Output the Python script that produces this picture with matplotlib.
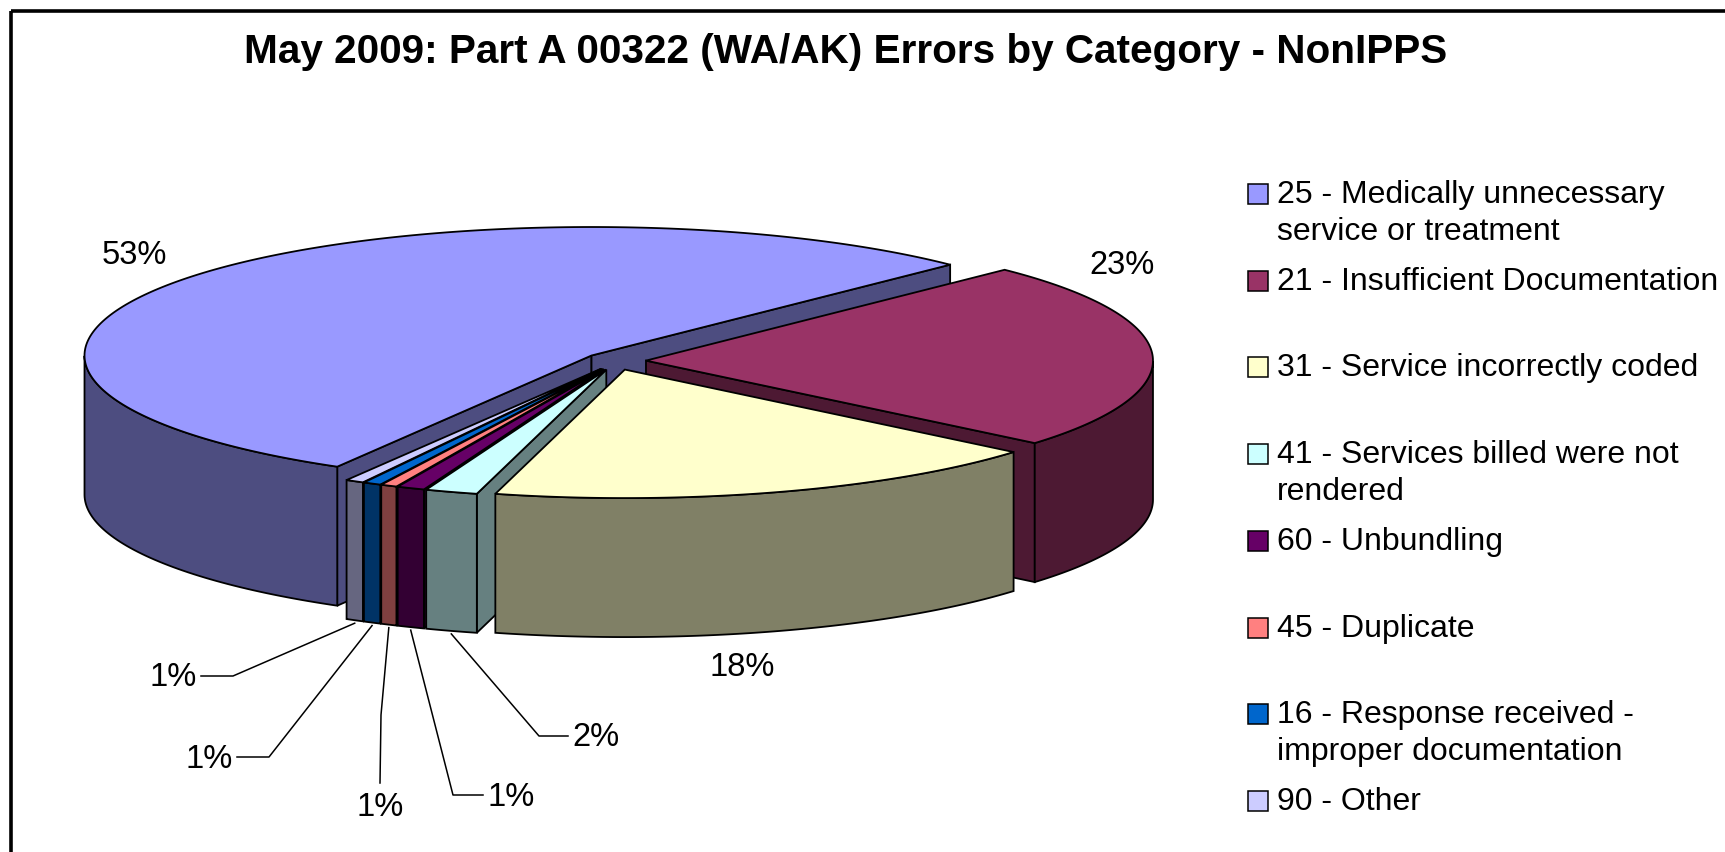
import matplotlib
matplotlib.use('Agg')
import matplotlib.pyplot as plt
from matplotlib.patches import Polygon, Rectangle
import numpy as np

plt.rcParams['font.family'] = ['Liberation Sans', 'DejaVu Sans']

TITLE = 'May 2009: Part A 00322 (WA/AK) Errors by Category - NonIPPS'
CATEGORIES = ['25 - Medically unnecessary\nservice or treatment',
              '21 - Insufficient Documentation',
              '31 - Service incorrectly coded',
              '41 - Services billed were not\nrendered',
              '60 - Unbundling',
              '45 - Duplicate',
              '16 - Response received -\nimproper documentation',
              '90 - Other']
PERCENTS = [53.49, 23.3, 17.8, 1.65, 0.88, 0.52, 0.57, 0.58]
COLORS = ['#9999FF', '#993366', '#FFFFCC', '#CCFFFF',
          '#660066', '#FF8080', '#0066CC', '#CCCCFF']
WALLS = ['#4D4D80', '#4D1933', '#808066', '#668080',
         '#330033', '#804040', '#003366', '#666680']

# pie layout, in pixels of the 1725x852 picture
CX, CY = 615.6, 361
RX, RY = 507, 128.5
DEPTH = 139
EXPLODE_X, EXPLODE_Y = 30.4, 9
START = 239.9
# back to front
DRAW_ORDER = [0, 1, 7, 6, 5, 4, 3, 2]

# (elbow, label centre) per slice; elbow None means no leader
LABELS = {0: (None, (134, 256)),
          1: (None, (1122, 266)),
          2: (None, (742, 667)),
          3: ((539, 736), (596, 738)),
          4: ((453, 795), (511, 797)),
          5: ((381, 715), (380, 807)),
          6: ((269, 757), (209, 759)),
          7: ((233, 676), (173, 678))}


def slice_angles(percents):
  shares = np.array(percents) / sum(percents)
  edges = START - np.concatenate([[0], np.cumsum(shares)]) * 360
  return edges[:-1], edges[1:]


def ell(ox, oy, t):
  t = np.radians(t)
  return np.column_stack([ox + RX * np.cos(t), oy - RY * np.sin(t)])


def add_poly(ax, pts, color, z):
  ax.add_patch(Polygon(pts, closed=True, facecolor=color, edgecolor='black',
                       linewidth=1.3, joinstyle='miter', zorder=z))


def draw_face(ax, ox, oy, corner, color, z):
  apex = np.array([ox, oy])
  add_poly(ax, [apex, corner, corner + [0, DEPTH], apex + [0, DEPTH]], color, z)


def draw_slice(ax, i, t0, t1, z):
  mid = np.radians((t0 + t1) / 2)
  ox = CX + EXPLODE_X * np.cos(mid)
  oy = CY - EXPLODE_Y * np.sin(mid)
  ts = np.linspace(t0, t1, 200)
  arc = ell(ox, oy, ts)
  if np.cos(np.radians(t0)) < 0:
    draw_face(ax, ox, oy, arc[0], WALLS[i], z)
  if np.cos(np.radians(t1)) > 0:
    draw_face(ax, ox, oy, arc[-1], WALLS[i], z)
  front = arc[np.sin(np.radians(ts)) <= 0]
  if len(front):
    wall = np.vstack([front, (front + [0, DEPTH])[::-1]])
    add_poly(ax, wall, WALLS[i], z + 0.1)
  add_poly(ax, np.vstack([[ox, oy], arc]), COLORS[i], z + 0.2)
  return ox, oy


def main():
  fig = plt.figure(figsize=(17.25, 8.52), dpi=100, facecolor='white')
  ax = fig.add_axes([0, 0, 1, 1])
  ax.set_xlim(0, 1725)
  ax.set_ylim(852, 0)
  ax.axis('off')

  # chart frame runs off the right and bottom of the picture
  ax.add_patch(Rectangle((11, 11), 1800, 900, fill=False, edgecolor='black',
                         linewidth=2.6))

  ax.text(846, 52, TITLE, ha='center', va='center', fontsize=29.2,
          fontweight='bold', color='black')

  starts, ends = slice_angles(PERCENTS)
  for z, i in enumerate(DRAW_ORDER):
    ox, oy = draw_slice(ax, i, starts[i], ends[i], 2 + z)
    elbow, pos = LABELS[i]
    text = '%d%%' % round(PERCENTS[i])
    ax.text(pos[0], pos[1], text, ha='center', va='center', fontsize=23.5,
            color='black', zorder=20)
    if elbow is not None:
      tip = ell(ox, oy, [(starts[i] + ends[i]) / 2])[0] + [0, DEPTH + 3]
      if abs(elbow[0] - pos[0]) < 5:
        tail = (pos[0], pos[1] - 24)
      else:
        tail = (pos[0] + 28 * np.sign(elbow[0] - pos[0]), elbow[1])
      ax.plot([tip[0], elbow[0], tail[0]], [tip[1], elbow[1], tail[1]],
              color='black', linewidth=1.1, zorder=20)

  for i, name in enumerate(CATEGORIES):
    y = 194 + i * 86.7
    ax.add_patch(Rectangle((1248, y - 10), 20, 20, facecolor=COLORS[i],
                           edgecolor='black', linewidth=1.1))
    for k, line in enumerate(name.split('\n')):
      ax.text(1277, y + 1 + k * 37, line, ha='left', va='center', fontsize=23,
              color='black')

  fig.savefig('out.png', dpi=100, facecolor='white')


if __name__ == '__main__':
  main()
